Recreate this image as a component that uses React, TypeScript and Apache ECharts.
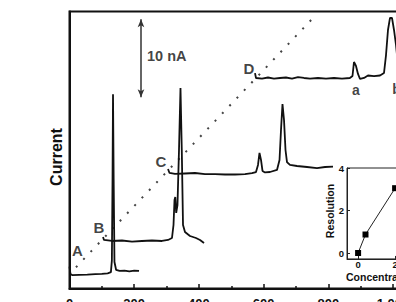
import { useEffect, useRef } from "react";
import * as echarts from "echarts";

const FONT = "'Liberation Sans', Arial, Helvetica, sans-serif";
const INK = "#111";

// Electropherograms: migration time (s) against detector current (nA), each run offset upward
const traceATime = [0, 3, 8, 30, 55, 80, 100, 118, 128, 131, 133, 134.5, 136.5, 139, 144, 155, 170, 185, 200, 215];
const traceACurrent = [2.8, 1.85, 1.72, 1.75, 1.78, 1.85, 1.88, 1.95, 2.1, 3.6, 14, 24.9, 14, 3.4, 2.4, 2.25, 2.3, 2.2, 2.28, 2.25];

const traceBTime = [103.6, 106.6, 131.4, 162.3, 193.2, 224.1, 255, 285.9, 304.5, 316.8, 321.5, 324.6, 327, 329.8, 333.8, 338.5, 343.1, 347.1, 350.9, 357, 372.5, 391, 403.4, 415.8];
const traceBCurrent = [6.6, 6.22, 6.09, 6.15, 6.02, 6.09, 6.15, 6.09, 6.22, 6.47, 8.14, 11.34, 11.73, 9.68, 10.7, 17.75, 25.7, 17.75, 8.14, 7.24, 6.73, 6.47, 6.22, 5.83];

const traceCTime = [304.5, 309.1, 326.1, 357, 387.9, 418.9, 449.8, 480.7, 511.6, 542.5, 564.1, 576.5, 582.7, 587.3, 592, 596.6, 604.3, 619.8, 641.4, 649.2, 653.8, 658.4, 663.1, 667.7, 672.3, 681.5, 703.2, 734.2, 765.1, 789.8, 814.5];
const traceCCurrent = [15.32, 14.81, 14.68, 14.74, 14.8, 14.67, 14.67, 14.61, 14.61, 14.67, 14.8, 14.93, 15.83, 17.37, 16.47, 15.06, 14.87, 14.93, 15.19, 16.47, 20.31, 23.64, 21.59, 17.75, 16.21, 15.83, 15.7, 15.57, 15.44, 15.57, 15.63];

const traceDTime = [573.4, 576.5, 595, 613.6, 632.1, 650.7, 669.2, 687.8, 706.3, 724.9, 743.4, 768.1, 792.9, 817.6, 842.3, 866.7, 874.8, 879.4, 885.6, 891.8, 898, 910.4, 922.7, 941.3, 959.8, 972.2, 978.4, 984.5, 990.7, 996.9, 1003.1, 1009.3, 1015.5, 1024.7, 1052.5];
const traceDCurrent = [27.6, 26.98, 26.91, 27.04, 26.91, 26.98, 27.04, 26.91, 27.1, 26.98, 26.91, 26.98, 26.91, 26.98, 26.91, 26.98, 27.23, 29.03, 28.52, 27.5, 26.85, 26.98, 27.3, 27.23, 27.3, 27.62, 29.92, 33.13, 34.67, 34.67, 33.13, 31.21, 28.6, 27.5, 27.2];

// Dotted guide running through the starts of the offset runs
const guideTime = [20, 756];
const guideCurrent = [2.72, 34.8];

// Vertical current scale bar
const scaleBarTime = 221;
const scaleBarBase = 24.5;
const scaleBarSpan = 10;
const scaleBarText = "10 nA";

// Run and peak tags
const traceLabelNames = ["A", "B", "C", "D"];
const traceLabelTime = [24.7, 90.6, 282.8, 554.9];
const traceLabelCurrent = [4.81, 7.82, 16.34, 28.19];
const peakLabelNames = ["a", "b"];
const peakLabelTime = [885.6, 1011];
const peakLabelCurrent = [25.44, 25.57];

// Inset: resolution of peaks a/b versus additive concentration
const insetConcentration = [0, 0.4, 2];
const insetResolution = [0, 0.87, 3.05];
const insetTicks = [0, 2, 4];

const pairs = (xs: number[], ys: number[]) => xs.map((x, i) => [x, ys[i]]);

const traceStyle = (name: string, t: number[], c: number[], extra: Record<string, unknown> = {}) => ({
  name,
  type: "line",
  xAxisIndex: 0,
  yAxisIndex: 0,
  data: pairs(t, c),
  symbol: "none",
  smooth: false,
  lineStyle: { color: INK, width: 1.8 },
  z: 3,
  ...extra,
});

export default function App() {
  const ref = useRef<HTMLDivElement>(null);

  useEffect(() => {
    if (!ref.current) return;
    const chart = echarts.init(ref.current, undefined, { renderer: "svg" });

    const labelItems = [
      ...traceLabelNames.map((n, i) => ({
        value: [traceLabelTime[i], traceLabelCurrent[i]],
        label: { formatter: n, fontSize: 15 },
      })),
      ...peakLabelNames.map((n, i) => ({
        value: [peakLabelTime[i], peakLabelCurrent[i]],
        label: { formatter: n, fontSize: 14 },
      })),
      {
        value: [scaleBarTime + 18.6, scaleBarBase + 5.36],
        label: { formatter: scaleBarText, fontSize: 14.5, align: "left" },
      },
    ];

    chart.setOption({
      animation: false,
      backgroundColor: "#fff",
      textStyle: { fontFamily: FONT },
      grid: [
        {
          left: 69.5,
          top: 11.5,
          width: 355.85,
          height: 277,
          show: true,
          borderColor: INK,
          borderWidth: 2,
          backgroundColor: "transparent",
          outerBoundsMode: "none",
        },
        {
          left: 347,
          top: 168,
          width: 99.9,
          height: 90.95,
          show: true,
          borderColor: "#222",
          borderWidth: 1,
          backgroundColor: "#fff",
          outerBoundsMode: "none",
        },
      ],
      xAxis: [
        {
          gridIndex: 0,
          type: "value",
          min: 0,
          max: 1100,
          interval: 200,
          axisLine: { show: true, onZero: false, lineStyle: { color: INK, width: 2 } },
          axisTick: { show: true, inside: true, length: 4.5, lineStyle: { color: INK, width: 1.5 } },
          minorTick: { show: true, splitNumber: 2, length: 2.5, lineStyle: { color: INK, width: 1.5 } },
          axisLabel: { margin: 8, fontSize: 13, fontWeight: "bold", color: INK, fontFamily: FONT },
          splitLine: { show: false },
          minorSplitLine: { show: false },
        },
        {
          gridIndex: 1,
          type: "value",
          min: -0.6,
          max: 4.8,
          axisLine: { show: true, onZero: false, lineStyle: { color: "#222", width: 1 } },
          axisTick: { show: true, inside: true, length: 3, customValues: insetTicks, lineStyle: { color: "#222", width: 1 } },
          axisLabel: { customValues: insetTicks, margin: 1, fontSize: 9.5, fontWeight: "bold", color: INK, fontFamily: FONT },
          splitLine: { show: false },
        },
      ],
      yAxis: [
        {
          gridIndex: 0,
          type: "value",
          min: 0,
          max: 35.5,
          axisLine: { show: true, onZero: false, lineStyle: { color: INK, width: 2 } },
          axisTick: { show: false },
          axisLabel: { show: false },
          splitLine: { show: false },
        },
        {
          gridIndex: 1,
          type: "value",
          min: -0.28,
          max: 4,
          axisLine: { show: true, onZero: false, lineStyle: { color: "#222", width: 1 } },
          axisTick: { show: true, inside: true, length: 3, customValues: insetTicks, lineStyle: { color: "#222", width: 1 } },
          axisLabel: { customValues: insetTicks, margin: 3, fontSize: 9.5, fontWeight: "bold", color: INK, fontFamily: FONT },
          splitLine: { show: false },
        },
      ],
      series: [
        {
          name: "guide",
          type: "line",
          xAxisIndex: 0,
          yAxisIndex: 0,
          data: pairs(guideTime, guideCurrent),
          symbol: "none",
          lineStyle: { color: "#444", width: 2, type: [2, 8.6] },
          z: 2,
        },
        traceStyle("A", traceATime, traceACurrent, {
          markLine: {
            silent: true,
            symbol: ["arrow", "arrow"],
            symbolSize: [5, 8],
            label: { show: false },
            lineStyle: { color: "#333", width: 1.5, type: "solid" },
            data: [[{ coord: [scaleBarTime, scaleBarBase] }, { coord: [scaleBarTime, scaleBarBase + scaleBarSpan] }]],
          },
        }),
        traceStyle("B", traceBTime, traceBCurrent),
        traceStyle("C", traceCTime, traceCCurrent),
        traceStyle("D", traceDTime, traceDCurrent),
        {
          name: "tags",
          type: "scatter",
          xAxisIndex: 0,
          yAxisIndex: 0,
          symbolSize: 1,
          itemStyle: { color: "transparent" },
          silent: true,
          z: 4,
          label: {
            show: true,
            position: "inside",
            color: INK,
            fontWeight: "bold",
            fontFamily: FONT,
            align: "center",
            verticalAlign: "middle",
          },
          data: labelItems,
        },
        {
          name: "resolution",
          type: "line",
          xAxisIndex: 1,
          yAxisIndex: 1,
          data: pairs(insetConcentration, insetResolution),
          symbol: "rect",
          symbolSize: 6,
          itemStyle: { color: "#000" },
          lineStyle: { color: "#222", width: 1 },
          z: 6,
        },
      ],
      graphic: [
        {
          type: "text",
          x: 56.5,
          y: 157,
          rotation: Math.PI / 2,
          style: { text: "Current", fill: INK, font: `bold 16px ${FONT}`, align: "center", verticalAlign: "middle" },
        },
        {
          type: "text",
          x: 329.5,
          y: 211,
          rotation: Math.PI / 2,
          style: { text: "Resolution", fill: INK, font: `bold 10.5px ${FONT}`, align: "center", verticalAlign: "middle" },
        },
        {
          type: "text",
          x: 346,
          y: 277,
          style: { text: "Concentration (mM)", fill: INK, font: `bold 10.5px ${FONT}`, align: "left", verticalAlign: "middle" },
        },
      ],
    });

    return () => chart.dispose();
  }, []);

  return (
    <div style={{ position: "fixed", left: 0, top: 0, width: 396, height: 302, overflow: "hidden", background: "#fff" }}>
      <div ref={ref} style={{ width: 460, height: 320 }} />
    </div>
  );
}
